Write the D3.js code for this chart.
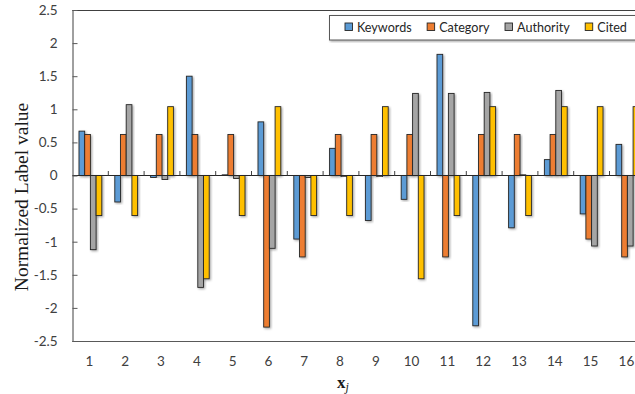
<!DOCTYPE html>
<html>
<head>
<meta charset="utf-8">
<script src="https://cdn.jsdelivr.net/npm/d3@7"></script>
<style>
  html, body { margin: 0; padding: 0; background: #fff; overflow: hidden; }
  svg { display: block; }
</style>
</head>
<body>
<svg id="chart" width="635" height="394"></svg>
<script>
// Sample indices along the x axis
const categories = ["1","2","3","4","5","6","7","8","9","10","11","12","13","14","15","16"];
const seriesNames = ["Keywords", "Category", "Authority", "Cited"];
const seriesColors = ["#5B9BD5", "#ED7D31", "#A5A5A5", "#FFC000"];

// Normalized label values per series
const keywords  = [0.67, -0.40, -0.03, 1.50, 0.01, 0.81, -0.96, 0.41, -0.68, -0.36, 1.83, -2.27, -0.79, 0.24, -0.58, 0.47];
const category  = [0.62, 0.62, 0.62, 0.62, 0.62, -2.29, -1.23, 0.62, 0.62, 0.62, -1.23, 0.62, 0.62, 0.62, -0.96, -1.23];
const authority = [-1.12, 1.07, -0.06, -1.69, -0.045, -1.10, -0.03, -0.02, -0.02, 1.24, 1.24, 1.255, 0.01, 1.285, -1.065, -1.065];
const cited     = [-0.605, -0.605, 1.04, -1.56, -0.605, 1.04, -0.605, -0.605, 1.04, -1.56, -0.605, 1.04, -0.605, 1.04, 1.04, 1.04];

const yTicks = [-2.5, -2, -1.5, -1, -0.5, 0, 0.5, 1, 1.5, 2, 2.5];

const seriesValues = [keywords, category, authority, cited];
const rows = categories.map((c, i) => ({
  cat: c,
  values: seriesNames.map((s, k) => ({ key: s, value: seriesValues[k][i], color: seriesColors[k] }))
}));

const svg = d3.select("#chart");
const plotLeft = 72.5, plotTop = 10, plotBottom = 341, step = 35.8;
const plotRight = plotLeft + step * categories.length;

const x = d3.scaleBand().domain(categories).range([plotLeft, plotRight]).padding(0);
const xInner = d3.scaleBand().domain(seriesNames).range([0, x.bandwidth()]).paddingInner(0).paddingOuter(1.14);
const y = d3.scaleLinear().domain([-2.5, 2.5]).range([plotBottom, plotTop]);

const defs = svg.append("defs");
const f = defs.append("filter").attr("id", "shadow").attr("x", "-50%").attr("y", "-10%").attr("width", "200%").attr("height", "120%");
f.append("feDropShadow").attr("dx", 1.2).attr("dy", 1.2).attr("stdDeviation", 0.8)
  .attr("flood-color", "#000").attr("flood-opacity", 0.35);

// Plot frame
svg.append("line").attr("x1", plotLeft).attr("x2", 700).attr("y1", plotTop + 0.5).attr("y2", plotTop + 0.5)
  .attr("stroke", "#404040").attr("stroke-width", 1);
svg.append("line").attr("x1", plotLeft).attr("x2", 700).attr("y1", plotBottom + 0.5).attr("y2", plotBottom + 0.5)
  .attr("stroke", "#595959").attr("stroke-width", 1.2);

// Bars
const groups = svg.append("g").selectAll("g").data(rows).join("g")
  .attr("transform", d => `translate(${x(d.cat)},0)`);
groups.selectAll("rect").data(d => d.values).join("rect")
  .attr("x", d => xInner(d.key))
  .attr("width", xInner.bandwidth())
  .attr("y", d => y(Math.max(0, d.value)))
  .attr("height", d => Math.abs(y(d.value) - y(0)))
  .attr("fill", d => d.color)
  .attr("stroke", "#262626")
  .attr("stroke-width", 0.9)
  .attr("filter", "url(#shadow)");

// Zero line with category separators
svg.append("line").attr("x1", plotLeft).attr("x2", 700).attr("y1", y(0)).attr("y2", y(0))
  .attr("stroke", "#262626").attr("stroke-width", 1);
svg.append("g").selectAll("line").data(categories.slice(1)).join("line")
  .attr("x1", d => x(d)).attr("x2", d => x(d))
  .attr("y1", y(0) - 4.5).attr("y2", y(0))
  .attr("stroke", "#404040").attr("stroke-width", 1);

// Y axis with inward ticks; plain hyphen for negatives
const yAxis = d3.axisLeft(y).tickValues(yTicks).tickSizeInner(-5).tickSizeOuter(0).tickPadding(15)
  .tickFormat(d => String(d));
const ya = svg.append("g").attr("transform", `translate(${plotLeft},0)`).call(yAxis);
ya.select(".domain").attr("stroke", "#404040").attr("d", `M0.5,${plotTop}V${plotBottom + 1}`);
ya.selectAll(".tick line").attr("stroke", "#595959");
ya.selectAll(".tick text").attr("font-family", "Lato, sans-serif").attr("font-size", 13.5).attr("fill", "#404040");

// X tick labels below the frame
svg.append("g").selectAll("text").data(categories).join("text")
  .attr("x", d => x(d) + x.bandwidth() / 2 - 1)
  .attr("y", 366)
  .attr("text-anchor", "middle")
  .attr("font-family", "Lato, sans-serif").attr("font-size", 13.5).attr("fill", "#404040")
  .text(d => d);

// Axis titles
svg.append("text")
  .attr("transform", "translate(28,197) rotate(-90)")
  .attr("text-anchor", "middle")
  .attr("font-family", "'Liberation Serif', 'Times New Roman', serif").attr("font-size", 19.5).attr("fill", "#1a1a1a")
  .text("Normalized Label value");

const xt = svg.append("text").attr("x", 337).attr("y", 388)
  .attr("font-family", "'Liberation Serif', 'Times New Roman', serif").attr("fill", "#1a1a1a");
xt.append("tspan").attr("font-weight", "bold").attr("font-size", 17).text("x");
xt.append("tspan").attr("font-style", "italic").attr("font-size", 12).attr("dy", 3).text("j");

// Legend
const lg = svg.append("g");
lg.append("rect").attr("x", 329.5).attr("y", 15.5).attr("width", 320).attr("height", 24.5)
  .attr("fill", "#fff").attr("stroke", "#595959").attr("stroke-width", 1)
  .attr("filter", "url(#shadow)");
let lx = 345;
seriesNames.forEach((s, k) => {
  lg.append("rect").attr("x", lx).attr("y", 23).attr("width", 7.5).attr("height", 7.5)
    .attr("fill", seriesColors[k]).attr("stroke", "#262626").attr("stroke-width", 0.9);
  const t = lg.append("text").attr("x", lx + 12).attr("y", 32)
    .attr("font-family", "Lato, sans-serif").attr("font-size", 12.6).attr("fill", "#262626").text(s);
  lx += 12 + t.node().getComputedTextLength() + 15.5;
});
</script>
</body>
</html>
